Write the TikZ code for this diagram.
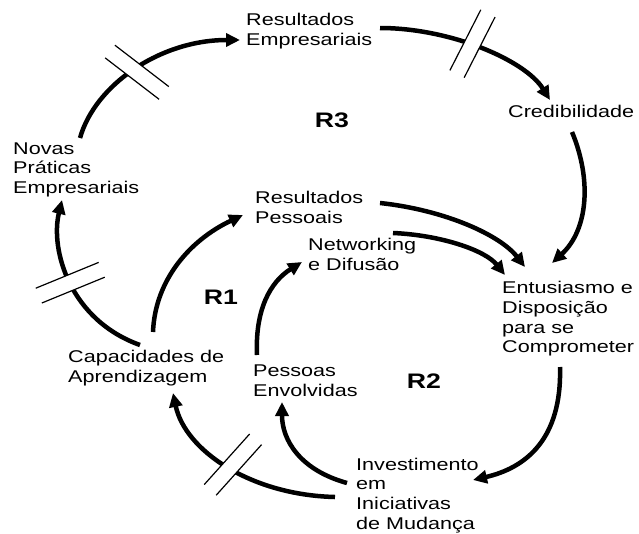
\documentclass[tikz,border=0pt]{standalone}
\usepackage{fontspec}
\setmainfont{Liberation Sans}[FakeStretch=1.27]
\usetikzlibrary{arrows.meta}
\begin{document}
\begin{tikzpicture}[x=1pt,y=-1pt,
  lbl/.style={anchor=north west, inner sep=0pt, align=left,
    font=\fontsize{17}{19.8}\selectfont},
  loopname/.style={inner sep=0pt, font=\fontsize{21}{24}\selectfont\bfseries},
  link/.style={line width=4.5pt, -{Triangle[length=14pt,width=13pt]}},
  delaymark/.pic={
    \fill[white] (-8,-34) rectangle (8,34);
    \draw[line width=1.2pt] (-8,-34) -- (-8,34) (8,-34) -- (8,34);
  }
]
\useasboundingbox (0,0) rectangle (639,533);

% variables
\node[lbl] (resemp) at (246,11.5)  {\strut Resultados\\Empresariais};
\node[lbl] (cred)   at (508,103)   {\strut Credibilidade};
\node[lbl] (novas)  at (13,140)    {\strut Novas\\Práticas\\Empresariais};
\node[lbl] (respes) at (255,189.5) {\strut Resultados\\Pessoais};
\node[lbl] (net)    at (308,236.5) {\strut Networking\\e Difusão};
\node[lbl] (ent)    at (502,279.5) {\strut Entusiasmo e\\Disposição\\para se\\Comprometer};
\node[lbl] (cap)    at (68,348.5)  {\strut Capacidades de\\Aprendizagem};
\node[lbl] (pes)    at (253,362.5) {\strut Pessoas\\Envolvidas};
\node[lbl] (inv)    at (356,456)   {\strut Investimento\\em\\Iniciativas\\de Mudança};

% loop labels
\node[loopname] (r3) at (332,120)   {R3};
\node[loopname] (r1) at (221,297)   {R1};
\node[loopname] (r2) at (424,381.5) {R2};

% causal links
\draw[link] ([shift={(67,-2)}]novas.north west)
  .. controls +(15,-53) and +(-80,0) .. ([shift={(-6,28.5)}]resemp.north west);
\draw[link] ([shift={(134,16.5)}]resemp.north west)
  .. controls +(70,0) and +(-25,-40) .. ([shift={(42,-3)}]cred.north west);
\draw[link] ([shift={(64,29)}]cred.north west)
  .. controls +(20,48) and +(36,-33) .. ([shift={(50,-16.5)}]ent.north west);
\draw[link] ([shift={(125,13.5)}]respes.north west)
  .. controls +(65,7) and +(-25,-32) .. ([shift={(23,-12.5)}]ent.north west);
\draw[link] ([shift={(85,-3.5)}]net.north west)
  .. controls +(47,2) and +(-20,-25) .. ([shift={(3,-4.5)}]ent.north west);
\draw[link] ([shift={(58,87.5)}]ent.north west)
  .. controls +(2,73) and +(52,-12) .. ([shift={(117,24)}]inv.north west);
\draw[link] ([shift={(-21,41)}]inv.north west)
  .. controls +(-85,-2) and +(12,57) .. ([shift={(105,44.5)}]cap.north west);
\draw[link] ([shift={(-9,27)}]inv.north west)
  .. controls +(-47,-13) and +(0,38) .. ([shift={(29,39.5)}]pes.north west);
\draw[link] ([shift={(4,-7.5)}]pes.north west)
  .. controls +(-2,-45) and +(-32,20) .. ([shift={(-6,25.5)}]net.north west);
\draw[link] ([shift={(85,-16.5)}]cap.north west)
  .. controls +(2,-52) and +(-53,25) .. ([shift={(-12,25.5)}]respes.north west);
\draw[link] ([shift={(72,-3.5)}]cap.north west)
  .. controls +(-70,-25) and +(-12,50) .. ([shift={(49,60)}]novas.north west);

% delay marks
\pic[rotate=52.5]  at (137,72.25)   {delaymark};
\pic[rotate=-27]   at (472.5,43.7)  {delaymark};
\pic[rotate=112.3] at (70.25,282.7) {delaymark};
\pic[rotate=-41.9] at (232.9,464.6) {delaymark};
\end{tikzpicture}
\end{document}
